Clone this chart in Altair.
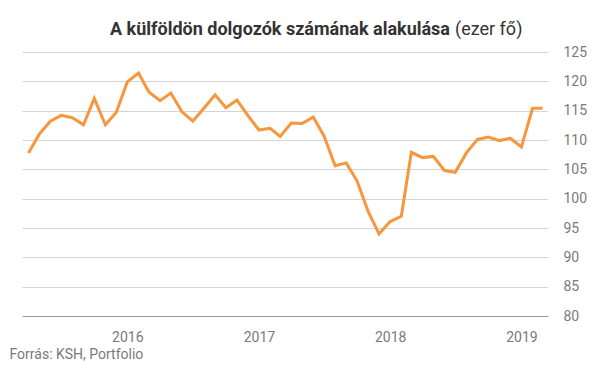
import altair as alt
import pandas as pd

# Monthly values (ezer fő), April 2015 – March 2019
months = pd.date_range("2015-04-01", periods=48, freq="MS").strftime("%Y-%m-%d").tolist()
values = [
    107.8, 111.0, 113.2, 114.2, 113.8, 112.6, 117.1, 112.6, 114.7,
    119.9, 121.4, 118.2, 116.7, 118.0, 114.8, 113.2, 115.4, 117.7, 115.5, 116.8, 114.2, 111.7, 112.0, 110.6,
    112.9, 112.8, 113.9, 110.7, 105.6, 106.1, 103.0, 97.8, 94.0, 96.1, 97.0, 107.9,
    107.0, 107.2, 104.8, 104.5, 107.8, 110.1, 110.5, 109.9, 110.3, 108.8, 115.4, 115.4,
]
title_bold = "A külföldön dolgozók számának alakulása"
title_unit = "(ezer fő)"
source = "Forrás: KSH, Portfolio"
year_ticks = [2016, 2017, 2018, 2019]
y_ticks = [80, 85, 90, 95, 100, 105, 110, 115, 120, 125]

df = pd.DataFrame({"date": months, "value": values})

FONT = "Roboto"
GRAY = "#7a7a7a"

line = alt.Chart(df).mark_line(color="#F7963C", strokeWidth=3, strokeJoin="miter").encode(
    x=alt.X(
        "date:T",
        scale=alt.Scale(domain=[alt.DateTime(year=2015, month=3, date=14),
                                alt.DateTime(year=2019, month=3, date=16)]),
        axis=alt.Axis(
            values=[alt.DateTime(year=y, month=1, date=1) for y in year_ticks],
            format="%Y",
            grid=False,
            ticks=False,
            tickSize=0,
            labelPadding=14,
            labelFont=FONT,
            labelFontSize=14,
            labelColor=GRAY,
            domainColor="#999999",
            domainWidth=1,
            title=source,
            titleFont=FONT,
            titleFontSize=14,
            titleFontWeight="normal",
            titleColor=GRAY,
            titleAnchor="start",
            titleAlign="left",
            titleBaseline="alphabetic",
            titleX=-13,
            titleY=42,
        ),
    ),
    y=alt.Y(
        "value:Q",
        scale=alt.Scale(domain=[80, 125], nice=False, zero=False),
        axis=alt.Axis(
            orient="right",
            values=y_ticks,
            grid=True,
            gridColor="#d4d4d4",
            gridWidth=1,
            domain=False,
            ticks=False,
            tickSize=0,
            labelPadding=15,
            labelFont=FONT,
            labelFontSize=14,
            labelColor=GRAY,
            title=None,
        ),
    ),
)

t1 = alt.Chart(pd.DataFrame({"t": [title_bold]})).mark_text(
    font=FONT, fontSize=18, fontWeight="bold", color="#333333",
    align="right", baseline="alphabetic",
).encode(text="t:N", x=alt.value(428), y=alt.value(-17))

t2 = alt.Chart(pd.DataFrame({"t": [title_unit]})).mark_text(
    font=FONT, fontSize=18, fontWeight="normal", color="#333333",
    align="left", baseline="alphabetic",
).encode(text="t:N", x=alt.value(433), y=alt.value(-17))

chart = alt.layer(line, t1, t2).properties(
    width=526,
    height=264,
    autosize=alt.AutoSizeParams(type="none"),
    padding={"left": 14, "top": 44, "right": 45, "bottom": 47},
).configure_view(stroke=None)

chart.save("out.html", embed_options={"renderer": "svg", "actions": False})
